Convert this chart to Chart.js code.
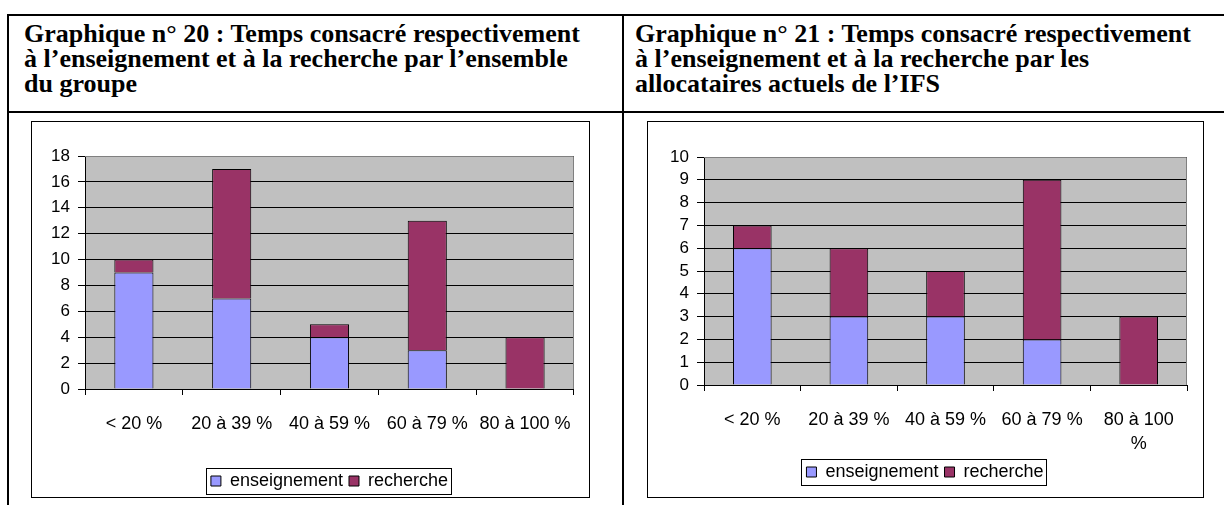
<!DOCTYPE html>
<html><head><meta charset="utf-8">
<script src="https://cdn.jsdelivr.net/npm/chart.js@4.4.0/dist/chart.umd.min.js"></script>
<style>
html,body{margin:0;padding:0;background:#fff;width:1224px;height:505px;overflow:hidden;position:relative;}
.line{position:absolute;background:#000;}
.title{position:absolute;font-family:"Liberation Serif","Times New Roman",serif;font-weight:bold;font-size:26px;line-height:25px;color:#000;white-space:nowrap;}
.box{position:absolute;border:1px solid #000;box-sizing:border-box;}
canvas{position:absolute;}
</style></head><body>
<div class="line" style="left:7px;top:14px;width:1217px;height:2px"></div>
<div class="line" style="left:7px;top:111px;width:1217px;height:2px"></div>
<div class="line" style="left:7px;top:14px;width:2px;height:491px"></div>
<div class="line" style="left:622px;top:14px;width:2px;height:491px"></div>
<div class="title" style="left:24px;top:21px">Graphique n° 20 : Temps consacré respectivement<br>à l’enseignement et à la recherche par l’ensemble<br>du groupe</div>
<div class="title" style="left:635px;top:21px">Graphique n° 21 : Temps consacré respectivement<br>à l’enseignement et à la recherche par les<br>allocataires actuels de l’IFS</div>
<div class="box" style="left:31px;top:121px;width:559px;height:377px"></div>
<div class="box" style="left:647px;top:121px;width:557px;height:377px"></div>
<canvas id="c1" width="557" height="385" style="left:32px;top:120px"></canvas>
<canvas id="c2" width="555" height="385" style="left:648px;top:120px"></canvas>
<script>
const seriesNames = ['enseignement', 'recherche'];
const categories20 = ['< 20 %', '20 à 39 %', '40 à 59 %', '60 à 79 %', '80 à 100 %'];
const enseignement20 = [9, 7, 4, 3, 0];
const recherche20 = [1, 10, 1, 10, 4];
const yTicks20 = [0, 2, 4, 6, 8, 10, 12, 14, 16, 18];

const categories21 = ['< 20 %', '20 à 39 %', '40 à 59 %', '60 à 79 %', ['80 à 100', '%']];
const enseignement21 = [6, 3, 3, 2, 0];
const recherche21 = [1, 3, 2, 7, 3];
const yTicks21 = [0, 1, 2, 3, 4, 5, 6, 7, 8, 9, 10];

Chart.defaults.font.family = "'Liberation Sans', Arial, sans-serif";
Chart.defaults.color = '#000';

const plotDecor = {
  id: 'plotDecor',
  beforeDraw(chart) {
    const a = chart.chartArea, ctx = chart.ctx;
    ctx.save();
    ctx.fillStyle = '#C0C0C0';
    ctx.fillRect(a.left, a.top, a.right - a.left, a.bottom - a.top);
    ctx.restore();
  },
  beforeDatasetsDraw(chart) {
    const a = chart.chartArea, ctx = chart.ctx;
    ctx.save();
    ctx.strokeStyle = '#808080';
    ctx.lineWidth = 1;
    ctx.beginPath();
    const t = Math.round(a.top) + 0.5, r = Math.round(a.right) - 0.5;
    ctx.moveTo(a.left, t); ctx.lineTo(r, t); ctx.lineTo(r, a.bottom);
    ctx.stroke();
    ctx.restore();
  },
  afterDraw(chart) {
    const lg = chart.legend;
    if (!lg || !lg.legendHitBoxes || !lg.legendHitBoxes.length) return;
    let l = Infinity, t = Infinity, r = -Infinity, b = -Infinity;
    lg.legendHitBoxes.forEach(h => {
      l = Math.min(l, h.left); t = Math.min(t, h.top);
      r = Math.max(r, h.left + h.width); b = Math.max(b, h.top + h.height);
    });
    const ctx = chart.ctx;
    ctx.save();
    ctx.strokeStyle = '#000';
    ctx.lineWidth = 1;
    ctx.strokeRect(Math.round(l - 5) + 0.5, Math.round(t - 4) + 0.5, Math.round(r - l + 8), Math.round(b - t + 8));
    ctx.restore();
  }
};

function makeChart(id, cats, ens, rech, yTicks, pad, yWidth, xHeight, legendFull) {
  const yMax = yTicks[yTicks.length - 1];
  const yStep = yTicks[1] - yTicks[0];
  const ds = (label, data, color) => ({
    label, data,
    backgroundColor: color, borderColor: '#000', borderWidth: 1,
    borderSkipped: 'start',
    barPercentage: 0.4, categoryPercentage: 1.0
  });
  return new Chart(document.getElementById(id), {
    type: 'bar',
    data: {
      labels: cats,
      datasets: [ds(seriesNames[0], ens, '#9999FF'), ds(seriesNames[1], rech, '#993366')]
    },
    options: {
      responsive: false, animation: false, devicePixelRatio: 1,
      layout: { padding: pad },
      plugins: {
        tooltip: { enabled: false },
        legend: {
          position: 'bottom', fullSize: legendFull,
          labels: { font: { size: 18 }, color: '#000', boxWidth: 10, boxHeight: 10, padding: 6 }
        }
      },
      scales: {
        x: {
          stacked: true,
          grid: { offset: true, drawOnChartArea: false, drawTicks: true, tickLength: 6, color: '#000' },
          border: { color: '#000', width: 1 },
          ticks: { font: { size: 18, lineHeight: 1.35 }, color: '#000', padding: 17, maxRotation: 0, autoSkip: false },
          afterFit: s => { s.height = xHeight; }
        },
        y: {
          stacked: true, min: 0, max: yMax,
          grid: { color: '#000', lineWidth: 1, tickLength: 7, drawTicks: true },
          border: { color: '#000', width: 1 },
          ticks: { stepSize: yStep, autoSkip: false, font: { size: 17 }, color: '#000', padding: 8 },
          afterFit: s => { s.width = yWidth; }
        }
      }
    },
    plugins: [plotDecor]
  });
}

makeChart('c1', categories20, enseignement20, recherche20, yTicks20,
  { top: 36, left: 0, right: 14, bottom: 5 }, 53, 77, false);
makeChart('c2', categories21, enseignement21, recherche21, yTicks21,
  { top: 37, left: 15, right: 16, bottom: 14 }, 41, 72, true);
</script>
</body></html>
